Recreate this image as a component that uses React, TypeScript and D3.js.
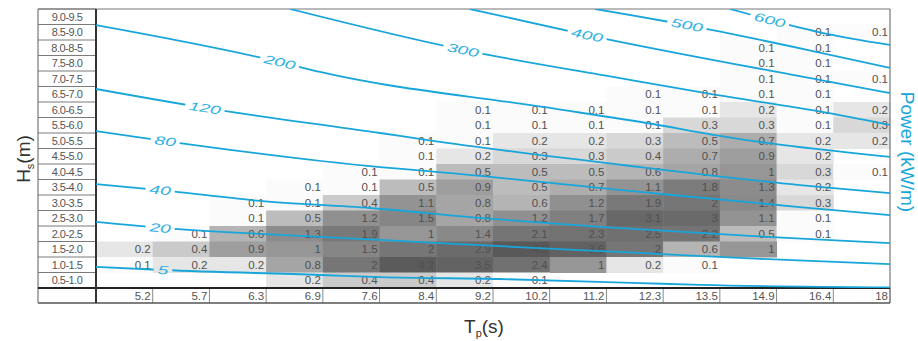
import React from "react";
import * as d3 from "d3";

// Tp columns (s) and Hs bins (m), top row first
const tpLabels = ["5.2", "5.7", "6.3", "6.9", "7.6", "8.4", "9.2", "10.2", "11.2", "12.3", "13.5", "14.9", "16.4", "18"];
const hsLabels = [
  "9.0-9.5", "8.5-9.0", "8.0-8-5", "7.5-8.0", "7.0-7.5", "6.5-7.0", "6.0-6.5", "5.5-6.0", "5.0-5.5",
  "4.5-5.0", "4.0-4.5", "3.5-4.0", "3.0-3.5", "2.5-3.0", "2.0-2.5", "1.5-2.0", "1.0-1.5", "0.5-1.0",
];

// occurrence (%) per Hs row, one value per Tp column (null = empty cell)
const _ = null;
const occurrence: (number | null)[][] = [
  [_, _, _, _, _, _, _, _, _, _, _, _, _, _],
  [_, _, _, _, _, _, _, _, _, _, _, _, 0.1, 0.1],
  [_, _, _, _, _, _, _, _, _, _, _, 0.1, 0.1, _],
  [_, _, _, _, _, _, _, _, _, _, _, 0.1, 0.1, _],
  [_, _, _, _, _, _, _, _, _, _, _, 0.1, 0.1, 0.1],
  [_, _, _, _, _, _, _, _, _, 0.1, 0.1, 0.1, 0.1, _],
  [_, _, _, _, _, _, 0.1, 0.1, 0.1, 0.1, 0.1, 0.2, 0.1, 0.2],
  [_, _, _, _, _, _, 0.1, 0.1, 0.1, 0.1, 0.3, 0.3, 0.1, 0.3],
  [_, _, _, _, _, 0.1, 0.1, 0.2, 0.2, 0.3, 0.5, 0.7, 0.2, 0.2],
  [_, _, _, _, _, 0.1, 0.2, 0.3, 0.3, 0.4, 0.7, 0.9, 0.2, _],
  [_, _, _, _, 0.1, 0.1, 0.5, 0.5, 0.5, 0.6, 0.8, 1, 0.3, 0.1],
  [_, _, _, 0.1, 0.1, 0.5, 0.9, 0.5, 0.7, 1.1, 1.8, 1.3, 0.2, _],
  [_, _, 0.1, 0.1, 0.4, 1.1, 0.8, 0.6, 1.2, 1.9, 2, 1.4, 0.3, _],
  [_, _, 0.1, 0.5, 1.2, 1.5, 0.8, 1.2, 1.7, 3.1, 3, 1.1, 0.1, _],
  [_, 0.1, 0.6, 1.3, 1.9, 1, 1.4, 2.1, 2.3, 2.5, 2.2, 0.5, 0.1, _],
  [0.2, 0.4, 0.9, 1, 1.5, 2, 2.9, 4.3, 3.6, 2, 0.6, 1, _, _],
  [0.1, 0.2, 0.2, 0.8, 2, 4.2, 3.5, 2.4, 1, 0.2, 0.1, _, _, _],
  [_, _, _, 0.2, 0.4, 0.4, 0.2, 0.1, _, _, _, _, _, _],
];

// power contours (kW/m): points as [column position 0..14, Hs]
const powerLevels = [5, 20, 40, 80, 120, 200, 300, 400, 500, 600];
const power5 = [[0, 1.18], [1.18, 1.08], [3.95, 0.92], [5.01, 0.85], [7.12, 0.79], [9.59, 0.66], [10.65, 0.6], [14, 0.52]];
const power20 = [[0, 2.63], [1.13, 2.44], [3.6, 2.18], [5.01, 2.05], [7.12, 1.85], [9.59, 1.63], [11.71, 1.44], [14, 1.27]];
const power40 = [[0, 3.85], [1.13, 3.66], [2.89, 3.31], [4.83, 3.08], [6.77, 2.76], [8.89, 2.47], [11.53, 2.18], [14, 1.95]];
const power80 = [[0, 5.56], [1.22, 5.24], [5.01, 4.4], [5.85, 4.27], [9.59, 3.6], [12.41, 3.11], [14, 2.85]];
const power120 = [[0, 6.92], [1.92, 6.31], [5.01, 5.5], [5.85, 5.27], [9.59, 4.4], [12.41, 3.82], [14, 3.56]];
const power200 = [[0, 8.98], [3.24, 7.79], [3.95, 7.47], [7.88, 6.34], [9.82, 5.79], [10.88, 5.44], [11.83, 5.18], [14, 4.73]];
const power300 = [[3.42, 9.5], [6.47, 8.18], [9.24, 7.27], [10.83, 6.76], [12.8, 6.18], [14, 5.76]];
const power400 = [[6.59, 9.5], [8.66, 8.66], [12.8, 7.2], [14, 6.79]];
const power500 = [[8.8, 9.5], [10.42, 8.98], [12.8, 8.08], [14, 7.6]];
const power600 = [[11.18, 9.5], [11.88, 9.15], [12.8, 8.73], [14, 8.34]];
const powerLines = [power5, power20, power40, power80, power120, power200, power300, power400, power500, power600];
const labelAt = [1.18, 1.13, 1.13, 1.22, 1.92, 3.24, 6.47, 8.66, 10.42, 11.88];

const W = 918;
const H = 341;
const left = 96;
const right = 890;
const top = 9;
const bottom = 288;
const labelLeft = 38;
const tpRowBottom = 303;
const font = "Arial, 'Liberation Sans', sans-serif";
const cyan = "#18a6da";

const interp = (pts: number[][], xv: number) => {
  const i = Math.max(1, Math.min(pts.length - 1, d3.bisector((d: number[]) => d[0]).left(pts, xv)));
  const a = pts[i - 1];
  const b = pts[i];
  const t = (xv - a[0]) / (b[0] - a[0]);
  return a[1] + t * (b[1] - a[1]);
};

export default function App() {
  const x = d3.scaleBand().domain(tpLabels).range([left, right]);
  const row = d3.scaleBand().domain(hsLabels).range([top, bottom]);
  const cx = d3.scaleLinear().domain([0, tpLabels.length]).range([left, right]);
  const hy = d3.scaleLinear().domain([0.5, 9.5]).range([bottom, top]);
  const shade = d3
    .scaleLinear<string>()
    .domain([0, 0.1, 0.2, 0.5, 1, 2, 4.5])
    .range(["#ffffff", "#fbfbfb", "#e6e6e6", "#bcbcbc", "#969696", "#767676", "#575757"]);
  const line = d3
    .line<number[]>()
    .x((d) => cx(d[0]))
    .y((d) => hy(d[1]))
    .curve(d3.curveMonotoneX);

  // label placement along each contour
  const labels = powerLevels.map((lv, i) => {
    const pts = powerLines[i];
    const xv = labelAt[i];
    const px = cx(xv);
    const py = hy(interp(pts, xv));
    const x1 = cx(xv - 0.3), y1 = hy(interp(pts, xv - 0.3));
    const x2 = cx(xv + 0.3), y2 = hy(interp(pts, xv + 0.3));
    const angle = (Math.atan2(y2 - y1, x2 - x1) * 180) / Math.PI;
    const w = String(lv).length * 10.6 + 8;
    return { lv, px, py, angle, w };
  });

  const bw = x.bandwidth();
  const bh = row.bandwidth();

  return (
    <svg width={W} height={H} style={{ position: "absolute", left: 0, top: 0, background: "#fff" }}>
      <defs>
        <clipPath id="plotClip">
          <rect x={left} y={top} width={right - left} height={bottom - top} />
        </clipPath>
        <mask id="gapMask" maskUnits="userSpaceOnUse" x={0} y={0} width={W} height={H}>
          <rect x={0} y={0} width={W} height={H} fill="#fff" />
          {labels.map((l) => (
            <rect
              key={l.lv}
              x={-l.w / 2}
              y={-6}
              width={l.w}
              height={12}
              fill="#000"
              transform={`translate(${l.px},${l.py}) rotate(${l.angle})`}
            />
          ))}
        </mask>
      </defs>

      {/* shaded cells */}
      <g>
        {occurrence.map((vals, r) =>
          vals.map((v, c) =>
            v == null ? null : (
              <rect
                key={`c${r}-${c}`}
                x={x(tpLabels[c])}
                y={row(hsLabels[r])}
                width={bw + 0.5}
                height={bh + 0.5}
                fill={shade(v)}
              />
            )
          )
        )}
      </g>

      {/* cell values */}
      <g fontFamily={font} fontSize={11.5} fill="#505050" textAnchor="end">
        {occurrence.map((vals, r) =>
          vals.map((v, c) =>
            v == null ? null : (
              <text key={`t${r}-${c}`} x={(x(tpLabels[c]) as number) + bw - 2} y={(row(hsLabels[r]) as number) + bh / 2 + 4}>
                {v}
              </text>
            )
          )
        )}
      </g>

      {/* row label column */}
      <g>
        {hsLabels.map((h) => (
          <line key={h} x1={labelLeft} x2={left} y1={row(h)} y2={row(h)} stroke="#7a7a7a" strokeWidth={1} />
        ))}
        {hsLabels.map((h) => (
          <text
            key={`l${h}`}
            x={(labelLeft + left) / 2}
            y={(row(h) as number) + bh / 2 + 4}
            textAnchor="middle"
            fontFamily={font}
            fontSize={11}
            letterSpacing={-0.5}
            fill="#555"
          >
            {h}
          </text>
        ))}
      </g>

      {/* Tp row */}
      <g>
        {tpLabels.map((t) => (
          <line
            key={`v${t}`}
            x1={(x(t) as number) + bw}
            x2={(x(t) as number) + bw}
            y1={bottom}
            y2={tpRowBottom}
            stroke="#8a8a8a"
            strokeWidth={1}
          />
        ))}
        {tpLabels.map((t) => (
          <text
            key={`tp${t}`}
            x={(x(t) as number) + bw - 2}
            y={bottom + 12}
            textAnchor="end"
            fontFamily={font}
            fontSize={11.5}
            fill="#555"
          >
            {t}
          </text>
        ))}
      </g>

      {/* frame */}
      <line x1={labelLeft} x2={right} y1={top} y2={top} stroke="#777" strokeWidth={1.2} />
      <line x1={right} x2={right} y1={top} y2={tpRowBottom} stroke="#777" strokeWidth={1.2} />
      <line x1={labelLeft} x2={labelLeft} y1={top} y2={tpRowBottom} stroke="#777" strokeWidth={1.2} />
      <line x1={labelLeft} x2={right} y1={tpRowBottom} y2={tpRowBottom} stroke="#555" strokeWidth={1.4} />
      <line x1={labelLeft} x2={right} y1={bottom} y2={bottom} stroke="#222" strokeWidth={2} />
      <line x1={left} x2={left} y1={top} y2={tpRowBottom} stroke="#333" strokeWidth={2} />

      {/* power contours */}
      <g clipPath="url(#plotClip)">
        <g mask="url(#gapMask)">
          {powerLines.map((pts, i) => (
            <path key={powerLevels[i]} d={line(pts) as string} fill="none" stroke={cyan} strokeWidth={1.8} />
          ))}
        </g>
      </g>
      <g fontFamily={font} fontSize={12} fontStyle="italic" fill="#2eb1e2" textAnchor="middle">
        {labels.map((l) => (
          <text key={l.lv} transform={`translate(${l.px},${l.py}) rotate(${l.angle}) scale(1.6,1)`} dy={4.3}>
            {l.lv}
          </text>
        ))}
      </g>

      {/* axis titles */}
      <text transform="translate(30,159) rotate(-90)" textAnchor="middle" fontFamily={font} fontSize={19} fill="#333">
        H<tspan fontSize={11} dy={4}>s</tspan>
        <tspan dy={-4}>(m)</tspan>
      </text>
      <text x={484} y={333} textAnchor="middle" fontFamily={font} fontSize={19} fill="#333">
        T<tspan fontSize={11} dy={4}>p</tspan>
        <tspan dy={-4}>(s)</tspan>
      </text>
      <text transform="translate(901,152) rotate(90)" textAnchor="middle" fontFamily={font} fontSize={19} fill={cyan}>
        Power (kW/m)
      </text>
    </svg>
  );
}
